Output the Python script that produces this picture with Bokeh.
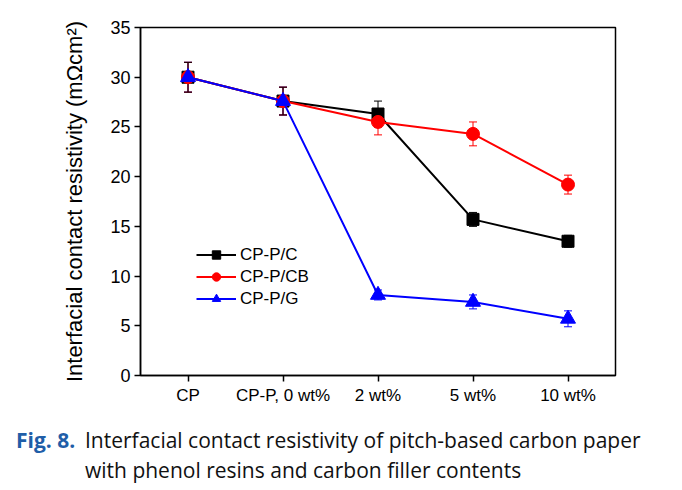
from bokeh.plotting import figure
from bokeh.models import (Range1d, ColumnDataSource, Whisker, TeeHead, Legend, LegendItem,
                          FixedTicker, Div)
from bokeh.layouts import column
from bokeh.embed import file_html
from bokeh.resources import INLINE

categories = ["CP", "CP-P, 0 wt%", "2 wt%", "5 wt%", "10 wt%"]
xpos = [0, 1, 2, 3, 4]

cpc_y = [30.0, 27.6, 26.3, 15.7, 13.5]
cpc_err = [1.5, 1.4, 1.3, 0.7, 0.6]
cpcb_y = [30.0, 27.6, 25.5, 24.3, 19.2]
cpcb_err = [1.5, 1.4, 1.3, 1.2, 0.95]
cpg_y = [30.0, 27.6, 8.1, 7.4, 5.7]
cpg_err = [1.5, 1.4, 0.5, 0.7, 0.8]

caption_fig = "Fig. 8."
caption_line1 = "Interfacial contact resistivity of pitch-based carbon paper"
caption_line2 = "with phenol resins and carbon filler contents"

series = [
    ("CP-P/C", cpc_y, cpc_err, "#000000", "square", 12),
    ("CP-P/CB", cpcb_y, cpcb_err, "#ff0000", "circle", 13),
    ("CP-P/G", cpg_y, cpg_err, "#0000ff", "triangle", 15),
]

FONT = "Liberation Sans"

p = figure(width=682, height=410, output_backend="svg", toolbar_location=None,
           x_range=Range1d(-0.5, 4.5), y_range=Range1d(0, 35),
           min_border_left=140, min_border_right=67, min_border_top=27, min_border_bottom=35)
p.background_fill_color = "white"
p.border_fill_color = "white"
p.grid.visible = False
p.outline_line_color = "black"
p.outline_line_width = 1.5

p.xaxis.ticker = FixedTicker(ticks=xpos)
p.xaxis.major_label_overrides = {x: c for x, c in zip(xpos, categories)}
p.yaxis.ticker = FixedTicker(ticks=[0, 5, 10, 15, 20, 25, 30, 35])
for ax in (p.xaxis, p.yaxis):
    ax.axis_line_width = 1.5
    ax.axis_line_color = "black"
    ax.major_tick_line_width = 1.5
    ax.major_tick_line_color = "black"
    ax.major_tick_out = 6
    ax.major_tick_in = 0
    ax.minor_tick_line_color = None
    ax.major_label_text_font = FONT
    ax.major_label_text_color = "black"
p.xaxis.major_label_text_font_size = "17px"
p.xaxis.major_label_standoff = 4
p.yaxis.major_label_text_font_size = "18px"
p.yaxis.major_label_standoff = 4
p.yaxis.axis_label = "Interfacial contact resistivity (mΩcm²)"
p.yaxis.axis_label_text_font = FONT
p.yaxis.axis_label_text_font_size = "22px"
p.yaxis.axis_label_text_font_style = "normal"
p.yaxis.axis_label_text_color = "black"
p.yaxis.axis_label_standoff = 20

items = []
whiskers = []
for name, ys, errs, color, marker, size in series:
    src = ColumnDataSource(dict(x=xpos, y=ys,
                                upper=[a + b for a, b in zip(ys, errs)],
                                lower=[a - b for a, b in zip(ys, errs)]))
    w = Whisker(base="x", upper="upper", lower="lower", source=src,
                line_color=color, line_width=1,
                upper_head=TeeHead(size=8, line_color=color, line_width=1),
                lower_head=TeeHead(size=8, line_color=color, line_width=1))
    whiskers.append(w)
    ln = p.line("x", "y", source=src, line_color=color, line_width=2)
    sc = p.scatter("x", "y", source=src, marker=marker, size=size,
                   fill_color=color, line_color=color)
    items.append(LegendItem(label=name, renderers=[ln, sc]))
for w in reversed(whiskers):
    p.add_layout(w)

legend = Legend(items=items, location=(56, 66), glyph_width=40, glyph_height=21,
                label_height=21, spacing=1, padding=0, margin=0, label_standoff=4,
                label_text_font=FONT, label_text_font_size="17px", label_text_color="black",
                border_line_color=None, background_fill_alpha=0)
p.add_layout(legend)

cap_style = "font-family:'Open Sans';font-size:21px;line-height:30px;white-space:nowrap;position:absolute;"
html = (
    '<div style="position:relative;width:682px;height:80px;">'
    f'<div style="{cap_style}left:16px;top:15px;color:#1f5ea8;font-weight:bold;">{caption_fig}</div>'
    f'<div style="{cap_style}left:85px;top:15px;color:#111111;">{caption_line1}</div>'
    f'<div style="{cap_style}left:85px;top:45px;color:#111111;">{caption_line2}</div>'
    '</div>'
)
cap = Div(text=html, width=682, height=80, margin=(0, 0, 0, 0))

layout = column(p, cap, spacing=0)
open("out.html", "w").write(file_html(layout, INLINE))
